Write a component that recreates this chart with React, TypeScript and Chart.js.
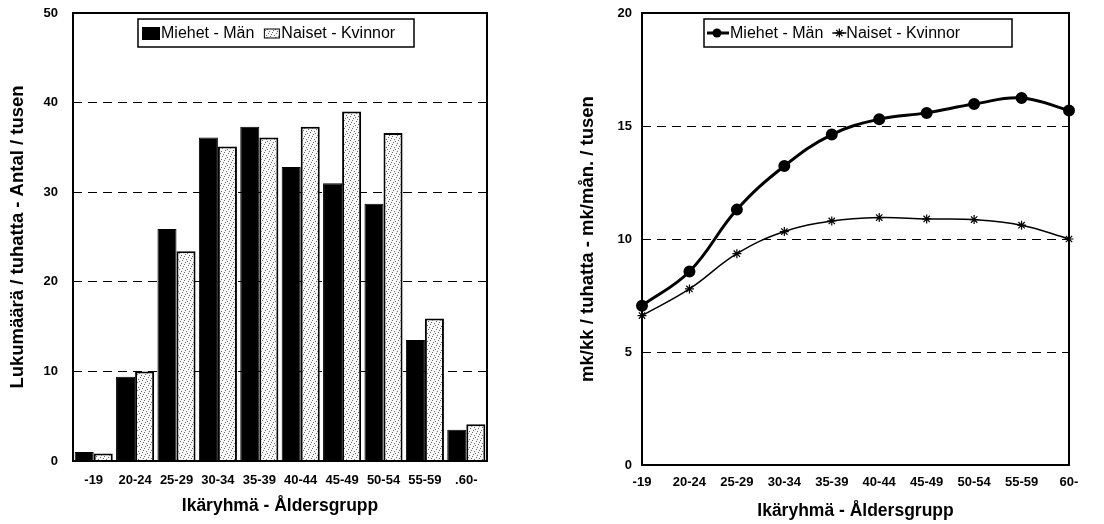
import React, { useEffect, useRef } from 'react';
import { Chart, registerables } from 'chart.js';

Chart.register(...registerables);

// ---------- data ----------
const barCategories = ['-19', '20-24', '25-29', '30-34', '35-39', '40-44', '45-49', '50-54', '55-59', '.60-'];
const lineCategories = ['-19', '20-24', '25-29', '30-34', '35-39', '40-44', '45-49', '50-54', '55-59', '60-'];
const seriesLabels = ['Miehet - Män', 'Naiset - Kvinnor'];

const menCount = [1.0, 9.4, 25.9, 36.1, 37.3, 32.8, 31.0, 28.7, 13.5, 3.5];
const womenCount = [0.85, 10.0, 23.4, 35.1, 36.1, 37.3, 39.0, 36.6, 15.9, 4.1];

const menIncome = [7.05, 8.56, 11.3, 13.23, 14.62, 15.3, 15.58, 15.97, 16.24, 15.69];
const womenIncome = [6.61, 7.79, 9.35, 10.33, 10.8, 10.95, 10.89, 10.86, 10.61, 10.0];

const countAxis = { min: 0, max: 50, step: 10 };
const incomeAxis = { min: 0, max: 20, step: 5 };

const countTitle = 'Lukumäärä / tuhatta - Antal / tusen';
const incomeTitle = 'mk/kk / tuhatta - mk/mån. / tusen';
const xTitle = 'Ikäryhmä - Åldersgrupp';

// ---------- helpers ----------
const FONT = '"Liberation Sans", Arial, Helvetica, sans-serif';

function makePattern(): CanvasPattern | string {
  const c = document.createElement('canvas');
  c.width = 8;
  c.height = 8;
  const g = c.getContext('2d');
  if (!g) return '#e6e6e6';
  g.fillStyle = '#f8f8f8';
  g.fillRect(0, 0, 8, 8);
  g.fillStyle = '#6a6a6a';
  const dots = [[0, 0], [4, 1], [2, 3], [6, 4], [1, 6], [5, 7], [3, 5], [7, 2]];
  dots.forEach(([x, y]) => g.fillRect(x, y, 1, 1));
  const p = g.createPattern(c, 'repeat');
  return p || '#e6e6e6';
}

const framePlugin = {
  id: 'frame',
  afterDatasetsDraw(chart: any) {
    const { ctx, chartArea: a } = chart;
    ctx.save();
    ctx.strokeStyle = '#000';
    ctx.lineWidth = 2;
    ctx.strokeRect(a.left, a.top, a.right - a.left, a.bottom - a.top);
    ctx.restore();
  },
};

function drawStar(ctx: CanvasRenderingContext2D, x: number, y: number, r: number) {
  const d = r * Math.SQRT1_2;
  ctx.beginPath();
  ctx.moveTo(x, y - r);
  ctx.lineTo(x, y + r);
  ctx.moveTo(x - r, y);
  ctx.lineTo(x + r, y);
  ctx.moveTo(x - d, y - d);
  ctx.lineTo(x + d, y + d);
  ctx.moveTo(x - d, y + d);
  ctx.lineTo(x + d, y - d);
  ctx.stroke();
}

function boxedLegend(cfg: {
  dx: number;
  dy: number;
  w: number;
  h: number;
  padLeft: number;
  gap: number;
  marker: (ctx: CanvasRenderingContext2D, ds: any, i: number, x: number, cy: number) => number;
}) {
  return {
    id: 'boxedLegend',
    afterDraw(chart: any) {
      const { ctx, chartArea: a } = chart;
      const x0 = a.left + cfg.dx;
      const y0 = a.top + cfg.dy;
      ctx.save();
      ctx.fillStyle = '#fff';
      ctx.fillRect(x0, y0, cfg.w, cfg.h);
      ctx.lineWidth = 1.5;
      ctx.strokeStyle = '#000';
      ctx.strokeRect(x0, y0, cfg.w, cfg.h);
      ctx.font = '16px ' + FONT;
      ctx.textBaseline = 'middle';
      ctx.textAlign = 'left';
      const cy = y0 + cfg.h / 2;
      let x = x0 + cfg.padLeft;
      chart.data.datasets.forEach((ds: any, i: number) => {
        x = cfg.marker(ctx, ds, i, x, cy);
        ctx.fillStyle = '#000';
        ctx.fillText(ds.label, x, cy + 1);
        x += ctx.measureText(ds.label).width + cfg.gap;
      });
      ctx.restore();
    },
  };
}

const tickFont = { family: FONT, size: 13, weight: 'bold' as const };
const xTitleFont = { family: FONT, size: 17.5, weight: 'bold' as const };
const yTitleFont = { family: FONT, size: 18.5, weight: 'bold' as const };

function gridColor(min: number, max: number) {
  return (c: any) => (c.tick && c.tick.value > min && c.tick.value < max ? '#000' : 'rgba(0,0,0,0)');
}

function fixSize(w: number | null, h: number | null) {
  return (s: any) => {
    if (w !== null) s.width = w;
    if (h !== null) s.height = h;
    s.paddingTop = 0;
    s.paddingBottom = 0;
    s.paddingLeft = 0;
    s.paddingRight = 0;
  };
}

export default function App() {
  const leftRef = useRef<HTMLCanvasElement>(null);
  const rightRef = useRef<HTMLCanvasElement>(null);

  useEffect(() => {
    Chart.defaults.color = '#000';
    Chart.defaults.font.family = FONT;
    const pattern = makePattern();

    const left = new Chart(leftRef.current as HTMLCanvasElement, {
      type: 'bar',
      data: {
        labels: barCategories,
        datasets: [
          {
            label: seriesLabels[0],
            data: menCount,
            backgroundColor: '#000',
            borderColor: '#000',
            borderWidth: 1,
          },
          {
            label: seriesLabels[1],
            data: womenCount,
            backgroundColor: pattern as any,
            borderColor: '#000',
            borderWidth: 2,
          },
        ],
      },
      options: {
        animation: false,
        responsive: false,
        devicePixelRatio: 1,
        datasets: { bar: { categoryPercentage: 0.92, barPercentage: 1.0 } },
        layout: { padding: { left: 0, right: 65, top: 13, bottom: 0 } },
        plugins: { legend: { display: false }, tooltip: { enabled: false } },
        scales: {
          x: {
            grid: { display: false },
            border: { display: false },
            ticks: { font: tickFont, color: '#000', padding: 4, autoSkip: false, maxRotation: 0 },
            title: { display: true, text: xTitle, font: xTitleFont, color: '#000', padding: { top: 0, bottom: 7.5 } },
            afterFit: fixSize(null, 63),
          },
          y: {
            min: countAxis.min,
            max: countAxis.max,
            ticks: { stepSize: countAxis.step, font: tickFont, color: '#000', padding: 15 },
            grid: { drawTicks: false, color: gridColor(countAxis.min, countAxis.max), lineWidth: 1 },
            border: { display: false, dash: [9, 6] },
            title: { display: true, text: countTitle, font: yTitleFont, color: '#000', padding: { top: 7, bottom: 0 } },
            afterFit: fixSize(73, null),
          },
        },
      } as any,
      plugins: [
        framePlugin,
        boxedLegend({
          dx: 65,
          dy: 6,
          w: 276,
          h: 28,
          padLeft: 4,
          gap: 10,
          marker: (ctx, ds, i, x, cy) => {
            if (i === 0) {
              ctx.fillStyle = '#000';
              ctx.fillRect(x, cy - 6, 18, 13);
              return x + 19;
            }
            ctx.fillStyle = ds.backgroundColor;
            ctx.fillRect(x, cy - 4, 15, 9);
            ctx.lineWidth = 1;
            ctx.strokeStyle = '#000';
            ctx.strokeRect(x, cy - 4, 15, 9);
            return x + 17;
          },
        }) as any,
      ],
    });

    const right = new Chart(rightRef.current as HTMLCanvasElement, {
      type: 'line',
      data: {
        labels: lineCategories,
        datasets: [
          {
            label: seriesLabels[0],
            data: menIncome,
            borderColor: '#000',
            backgroundColor: '#000',
            borderWidth: 3,
            pointStyle: 'circle',
            pointRadius: 4.5,
            pointBackgroundColor: '#000',
            pointBorderColor: '#000',
            tension: 0.4,
            clip: false,
          },
          {
            label: seriesLabels[1],
            data: womenIncome,
            borderColor: '#000',
            backgroundColor: '#000',
            borderWidth: 1.5,
            pointStyle: 'star',
            pointRadius: 4.5,
            pointBorderWidth: 1.2,
            pointBorderColor: '#000',
            tension: 0.4,
            clip: false,
          },
        ],
      },
      options: {
        animation: false,
        responsive: false,
        devicePixelRatio: 1,
        layout: { padding: { left: 0, right: 35, top: 13, bottom: 0 } },
        plugins: { legend: { display: false }, tooltip: { enabled: false } },
        scales: {
          x: {
            offset: false,
            grid: { display: false },
            border: { display: false },
            ticks: { font: tickFont, color: '#000', padding: 2, autoSkip: false, maxRotation: 0 },
            title: { display: true, text: xTitle, font: xTitleFont, color: '#000', padding: { top: 0, bottom: 2.5 } },
            afterFit: fixSize(null, 59),
          },
          y: {
            min: incomeAxis.min,
            max: incomeAxis.max,
            ticks: { stepSize: incomeAxis.step, font: tickFont, color: '#000', padding: 10 },
            grid: { drawTicks: false, color: gridColor(incomeAxis.min, incomeAxis.max), lineWidth: 1 },
            border: { display: false, dash: [9, 6] },
            title: { display: true, text: incomeTitle, font: yTitleFont, color: '#000', padding: { top: 25, bottom: 0 } },
            afterFit: fixSize(90, null),
          },
        },
      } as any,
      plugins: [
        framePlugin,
        boxedLegend({
          dx: 62,
          dy: 6,
          w: 308,
          h: 28,
          padLeft: 3,
          gap: 9,
          marker: (ctx, ds, i, x, cy) => {
            ctx.strokeStyle = '#000';
            if (i === 0) {
              ctx.lineWidth = 3;
              ctx.beginPath();
              ctx.moveTo(x, cy);
              ctx.lineTo(x + 22, cy);
              ctx.stroke();
              ctx.fillStyle = '#000';
              ctx.beginPath();
              ctx.arc(x + 10, cy, 4.5, 0, Math.PI * 2);
              ctx.fill();
              return x + 23;
            }
            ctx.lineWidth = 1.5;
            ctx.beginPath();
            ctx.moveTo(x, cy);
            ctx.lineTo(x + 14, cy);
            ctx.stroke();
            ctx.lineWidth = 1.2;
            drawStar(ctx, x + 7, cy, 4.5);
            return x + 14;
          },
        }) as any,
      ],
    });

    return () => {
      left.destroy();
      right.destroy();
    };
  }, []);

  return (
    <div style={{ position: 'fixed', left: 0, top: 0, width: 1104, height: 524, background: '#fff' }}>
      <canvas ref={leftRef} width={552} height={524} style={{ position: 'absolute', left: 0, top: 0, width: 552, height: 524 }} />
      <canvas ref={rightRef} width={552} height={524} style={{ position: 'absolute', left: 552, top: 0, width: 552, height: 524 }} />
    </div>
  );
}
